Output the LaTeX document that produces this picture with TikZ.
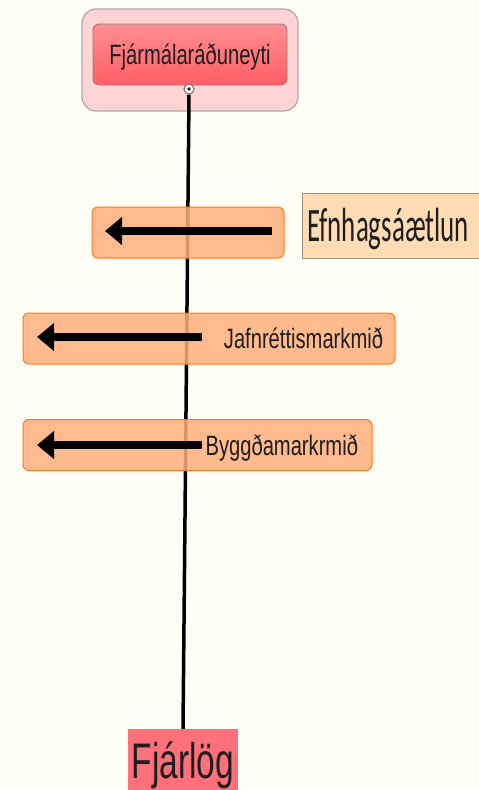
\documentclass[tikz,border=0pt]{standalone}
\usepackage{fontspec}
\setmainfont{Liberation Sans}
\newfontfamily\calibfont{Carlito}
\usetikzlibrary{arrows.meta}
\definecolor{paper}{HTML}{FFFEF6}
\definecolor{holdfill}{HTML}{FFD4D4}
\definecolor{holdline}{HTML}{B4A4A4}
\definecolor{inkgray}{HTML}{8C7C7C}
\definecolor{redtop}{HTML}{FF8E92}
\definecolor{redbot}{HTML}{FF5E66}
\definecolor{goalfill}{HTML}{FFB07C}
\definecolor{goalline}{HTML}{FF7A1A}
\definecolor{planfill}{HTML}{FFDCB4}
\definecolor{planline}{HTML}{9E8E80}
\definecolor{budgetfill}{HTML}{FF707A}
\definecolor{ink}{HTML}{1E1E1E}
\newcommand{\squeeze}[2][0.72]{\scalebox{#1}[1]{#2}}

\begin{document}
\begin{tikzpicture}[x=1pt, y=-1pt,
  holder/.style={draw=holdline, fill=holdfill, rounded corners=14pt, line width=1.2pt},
  ministry/.style={draw=inkgray, top color=redtop, bottom color=redbot, rounded corners=6pt, line width=0.8pt, text=ink, font=\fontsize{28}{30}\selectfont, text height=24pt, text depth=4pt},
  goal/.style={draw=goalline, fill=goalfill, fill opacity=0.85, text opacity=1, rounded corners=6pt, line width=1pt, minimum height=51pt, text=ink, font=\fontsize{28}{30}\selectfont, text height=24pt, text depth=4pt},
  spine/.style={line width=3.5pt, black},
  push/.style={line width=8pt, black, -{Triangle[length=17pt,width=27pt]}}]
\useasboundingbox (0,0) rectangle (479,790);
\fill[paper] (0,0) rectangle (479,790);
\node[holder, minimum width=216pt, minimum height=102pt] (holder) at (190,60) {};
\node[ministry, minimum width=194pt, minimum height=61pt] (ministry) at (190,54.5) {\squeeze{Fjármálaráðuneyti}};
\node[circle, draw=inkgray, fill=white, line width=1.2pt, inner sep=0pt, minimum size=10pt] (knob) at (189,89) {};
\fill[ink] (knob) circle (1.8pt);
\node[fill=budgetfill, minimum width=110pt, minimum height=61pt, inner sep=0pt, text=ink, font=\fontsize{50}{52}\selectfont, text height=44pt, text depth=7pt] (budget) at (183,759.5) {\squeeze[0.67]{Fjárlög}};
\draw[inkgray, line width=1pt] (budget.south west) -- (budget.south east);
\draw[spine] (knob.south) -- (budget.north);
\node[goal, minimum width=192pt] (econ) at (188,232.5) {};
\node[draw=planline, fill=planfill, line width=0.8pt, anchor=west, minimum height=65pt, inner xsep=5pt, text width=190pt, align=left, text=ink, font=\calibfont\fontsize{48}{50}\selectfont, text height=32pt, text depth=0pt] (plan) at (302,225.5) {\squeeze[0.56]{Efnhagsáætlun}};
\node[goal, inner xsep=12pt, text width=348pt, align=right] (equal) at (209,338.5) {\squeeze{Jafnréttismarkmið}};
\node[goal, inner xsep=14pt, text width=321pt, align=right] (region) at (197.5,445) {\squeeze{Byggðamarkrmið}};
\foreach \n/\xa/\xb/\yy in {econ/272/105/231, equal/202/37/337, region/202/37/445} {
 \coordinate (\n tail) at (\xa,\yy);
 \coordinate (\n head) at (\xb,\yy);
 \draw[push] (\n tail) -- (\n head);
}
\end{tikzpicture}
\end{document}
